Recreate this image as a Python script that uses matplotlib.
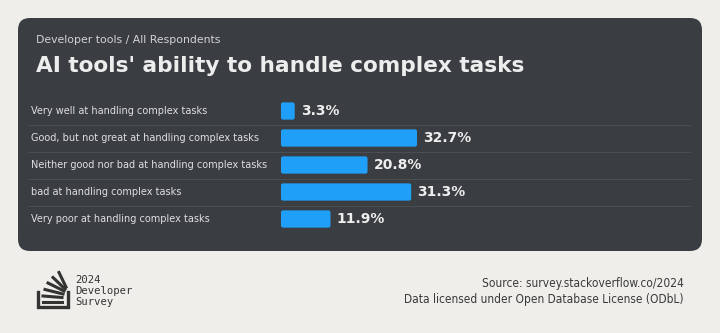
import matplotlib.pyplot as plt
from matplotlib.patches import FancyBboxPatch
from matplotlib.lines import Line2D

# datos de la encuesta
categorias = [
    "Very well at handling complex tasks",
    "Good, but not great at handling complex tasks",
    "Neither good nor bad at handling complex tasks",
    "bad at handling complex tasks",
    "Very poor at handling complex tasks",
]
valores = [3.3, 32.7, 20.8, 31.3, 11.9]

subtitulo = "Developer tools / All Respondents"
titulo = "AI tools' ability to handle complex tasks"
fuente = "Source: survey.stackoverflow.co/2024"
licencia = "Data licensed under Open Database License (ODbL)"

W, H = 720, 333
FONDO = "#efeeea"
PANEL = "#3a3d41"
AZUL = "#1f9ff7"
PX_POR_PCT = 4.16


def px(x, y):
    # pixeles (origen arriba a la izquierda) -> pulgadas para dpi_scale_trans
    return x / 100, (H - y) / 100


fig = plt.figure(figsize=(W / 100, H / 100), dpi=100, facecolor=FONDO)
t = fig.dpi_scale_trans

# panel oscuro redondeado
x0, y0 = px(18, 251)
fig.patches.append(FancyBboxPatch((x0, y0), 6.84, 2.33, boxstyle="round,pad=0,rounding_size=0.12",
                                  transform=t, facecolor=PANEL, edgecolor="none", zorder=-2))

fig.text(*px(36, 40), subtitulo, transform=t, color="#d2d3d4", fontsize=7.8, va="center")
fig.text(*px(36, 66), titulo, transform=t, color="#eceded", fontsize=15.6, fontweight="bold", va="center")

# separadores entre filas
for i in range(4):
    yy = 124.5 + 27 * i
    fig.lines.append(Line2D([0.28, 6.9], [px(0, yy)[1]] * 2, transform=t, color="#4a4d52", lw=0.8, zorder=-1))

# ejes de las barras
ax = fig.add_axes([281 / W, 1 - 232.5 / H, 409 / W, 135 / H])
ax.set_zorder(2)
ax.set_facecolor("none")
barras = ax.barh(range(len(valores)), valores, height=0.64, color=AZUL)
ax.set_xlim(0, 409 / PX_POR_PCT)
ax.set_ylim(4.5, -0.5)
ax.axis("off")

# esquinas redondeadas
for b in barras:
    b.set_visible(False)
    ax.add_patch(FancyBboxPatch((b.get_x(), b.get_y()), b.get_width(), b.get_height(),
                                boxstyle="round,pad=0,rounding_size=0.5", mutation_aspect=(1 / 27) / (1 / PX_POR_PCT),
                                facecolor=AZUL, edgecolor="none"))

for i, (cat, v) in enumerate(zip(categorias, valores)):
    ax.text(v + 1.5, i, f"{v}%", color="#eeeeee", fontsize=10, fontweight="bold", va="center")
    fig.text(0.31, px(0, 111 + 27 * i)[1], cat, transform=t, color="#dedfe0", fontsize=7.0, va="center")

# logo
c = "#333333"
fig.lines.append(Line2D(*zip(px(38, 292), px(38, 307), px(68, 307), px(68, 292)), transform=t, color=c, lw=2.4,
                        solid_joinstyle="miter"))
for (xa, ya, xb, yb) in [(43, 302, 62, 302), (43, 296, 62, 297.5), (45, 289.5, 63, 294),
                         (48, 283, 64, 291), (53, 277.5, 65, 289), (59, 272.5, 66, 287)]:
    fig.lines.append(Line2D(*zip(px(xa, ya), px(xb, yb)), transform=t, color=c, lw=2.2))
fig.text(*px(75, 291), "2024\nDeveloper\nSurvey", transform=t, color="#333333", fontsize=7.6,
         family="DejaVu Sans Mono", va="center", linespacing=1.15)

fig.text(*px(684, 284), fuente, transform=t, color="#3a3a3a", fontsize=8.6, fontstretch="condensed",
         ha="right", va="center")
fig.text(*px(684, 299), licencia, transform=t, color="#3a3a3a", fontsize=8.6, fontstretch="condensed",
         ha="right", va="center")

fig.savefig("out.png", dpi=100, facecolor=FONDO)
